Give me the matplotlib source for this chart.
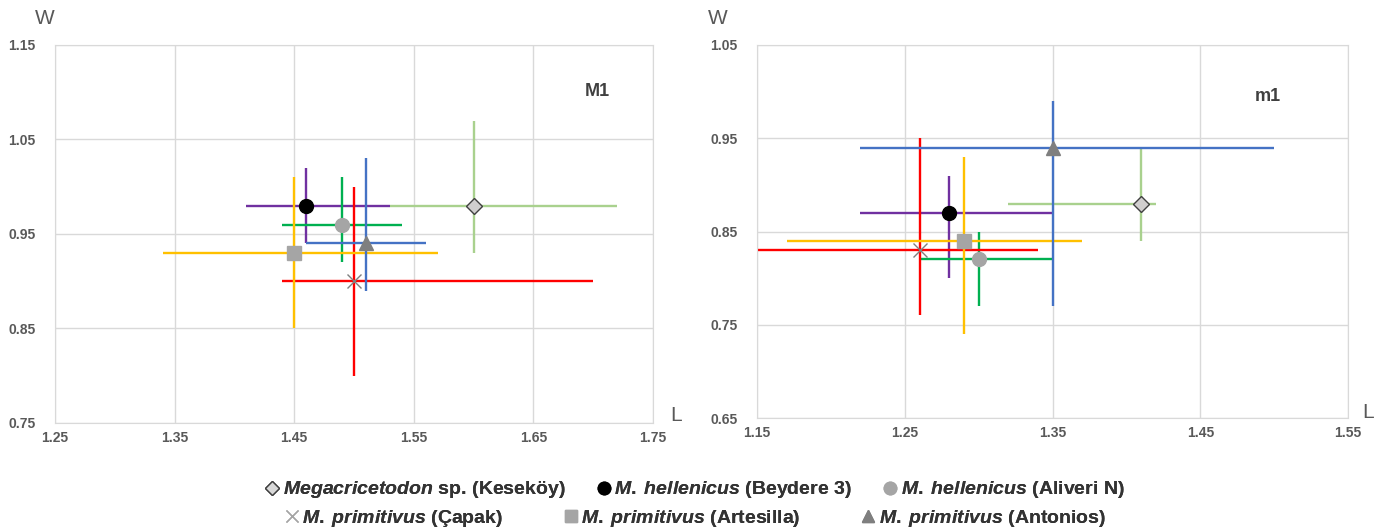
import matplotlib
matplotlib.use("Agg")
from matplotlib import pyplot as plt
from matplotlib.lines import Line2D

plt.rcParams['font.family'] = ['Liberation Sans', 'DejaVu Sans']
plt.rcParams['mathtext.fontset'] = 'custom'
plt.rcParams['mathtext.it'] = 'Liberation Sans:italic:bold'
plt.rcParams['mathtext.rm'] = 'Liberation Sans:bold'

# populations, in legend order
names = [r"$\mathit{Megacricetodon}$ sp. (Keseköy)",
         r"$\mathit{M.\;hellenicus}$ (Beydere 3)",
         r"$\mathit{M.\;hellenicus}$ (Aliveri N)",
         r"$\mathit{M.\;primitivus}$ (Çapak)",
         r"$\mathit{M.\;primitivus}$ (Artesilla)",
         r"$\mathit{M.\;primitivus}$ (Antonios)"]
line_colors = ["#A9D18E", "#7030A0", "#00B050", "#FF0000", "#FFC000", "#4472C4"]
markers = ["D", "o", "o", "x", "s", "^"]
marker_faces = ["#D0CECE", "black", "#A5A5A5", "#7F7F7F", "#A5A5A5", "#7F7F7F"]
marker_edges = ["#404040", "black", "#A5A5A5", "#7F7F7F", "#A5A5A5", "#7F7F7F"]
marker_sizes = [8, 10, 10, 10, 10, 10]

# M1: length (mean, min, max), width (mean, min, max)
M1_L = [1.60, 1.46, 1.49, 1.50, 1.45, 1.51]
M1_Lmin = [1.53, 1.41, 1.44, 1.44, 1.34, 1.46]
M1_Lmax = [1.72, 1.53, 1.54, 1.70, 1.57, 1.56]
M1_W = [0.98, 0.98, 0.96, 0.90, 0.93, 0.94]
M1_Wmin = [0.93, 0.94, 0.92, 0.80, 0.85, 0.89]
M1_Wmax = [1.07, 1.02, 1.01, 1.00, 1.01, 1.03]

# m1
m1_L = [1.41, 1.28, 1.30, 1.26, 1.29, 1.35]
m1_Lmin = [1.32, 1.22, 1.26, 1.15, 1.17, 1.22]
m1_Lmax = [1.42, 1.35, 1.35, 1.34, 1.37, 1.50]
m1_W = [0.88, 0.87, 0.82, 0.83, 0.84, 0.94]
m1_Wmin = [0.84, 0.80, 0.77, 0.76, 0.74, 0.77]
m1_Wmax = [0.94, 0.91, 0.85, 0.95, 0.93, 0.99]

M1_xticks = [1.25, 1.35, 1.45, 1.55, 1.65, 1.75]
M1_yticks = [0.75, 0.85, 0.95, 1.05, 1.15]
m1_xticks = [1.15, 1.25, 1.35, 1.45, 1.55]
m1_yticks = [0.65, 0.75, 0.85, 0.95, 1.05]

grey = "#595959"
grid = "#D9D9D9"


def panel(ax, L, Lmin, Lmax, W, Wmin, Wmax, xticks, yticks, title, wpos, lpos, tpos):
    for i in range(len(L)):
        ax.hlines(W[i], Lmin[i], Lmax[i], color=line_colors[i], lw=1.7, zorder=2)
        ax.vlines(L[i], Wmin[i], Wmax[i], color=line_colors[i], lw=1.7, zorder=2)
    for i in range(len(L)):
        ax.plot(L[i], W[i], marker=markers[i], ms=marker_sizes[i], mfc=marker_faces[i],
                mec=marker_edges[i], mew=1.0, ls="none", zorder=4)
    ax.set_xlim(xticks[0], xticks[-1])
    ax.set_ylim(yticks[0], yticks[-1])
    ax.set_xticks(xticks)
    ax.set_yticks(yticks)
    ax.set_xticklabels(["%.2f" % t for t in xticks])
    ax.set_yticklabels(["%.2f" % t for t in yticks])
    ax.tick_params(length=0, labelsize=10, labelcolor=grey)
    ax.tick_params(axis="y", pad=14)
    ax.tick_params(axis="x", pad=6)
    for lab in ax.get_xticklabels() + ax.get_yticklabels():
        lab.set_fontweight("bold")
    ax.grid(True, color=grid, lw=1)
    ax.set_axisbelow(True)
    for s in ax.spines.values():
        s.set_color(grid)
    ax.text(wpos[0], wpos[1], "W", transform=ax.transAxes, fontsize=15, color=grey,
            ha="center", va="center")
    ax.text(lpos[0], lpos[1], "L", transform=ax.transAxes, fontsize=15, color=grey,
            ha="center", va="center")
    ax.text(tpos[0], tpos[1], title, transform=ax.transAxes, fontsize=13, color="#404040",
            fontweight="bold", ha="center", va="center")


fig = plt.figure(figsize=(13.83, 5.30), dpi=100)
ax1 = fig.add_axes([0.0398, 0.2019, 0.4324, 0.7132])
ax2 = fig.add_axes([0.5474, 0.2113, 0.4273, 0.7038])

panel(ax1, M1_L, M1_Lmin, M1_Lmax, M1_W, M1_Wmin, M1_Wmax, M1_xticks, M1_yticks,
      "M1", (-0.017, 1.071), (1.038, 0.02), (0.906, 0.876))
panel(ax2, m1_L, m1_Lmin, m1_Lmax, m1_W, m1_Wmin, m1_Wmax, m1_xticks, m1_yticks,
      "m1", (-0.066, 1.072), (1.034, 0.016), (0.865, 0.863))

leg_faces = ["#D9D9D9", "black", "#A5A5A5", "#A5A5A5", "#A5A5A5", "#7F7F7F"]
leg_edges = ["#404040", "black", "#A5A5A5", "#A5A5A5", "#A5A5A5", "#7F7F7F"]
handles = [Line2D([], [], marker=markers[i], ms=marker_sizes[i] - 1, mfc=leg_faces[i],
                  mec=leg_edges[i], ls="none") for i in range(6)]

for row, ypos, gap in [(0, 0.0755, 1.5), (1, 0.0226, 3.0)]:
    idx = range(row * 3, row * 3 + 3)
    leg = fig.legend([handles[i] for i in idx], [names[i] for i in idx],
                     loc="center", bbox_to_anchor=(0.502, ypos), ncol=3, frameon=False,
                     prop={"size": 14, "weight": "bold"}, handletextpad=0.1,
                     columnspacing=gap, handlelength=0.9, borderpad=0)
    for t in leg.get_texts():
        t.set_color("#333333")
    fig.add_artist(leg)

fig.savefig("out.png", dpi=100)
